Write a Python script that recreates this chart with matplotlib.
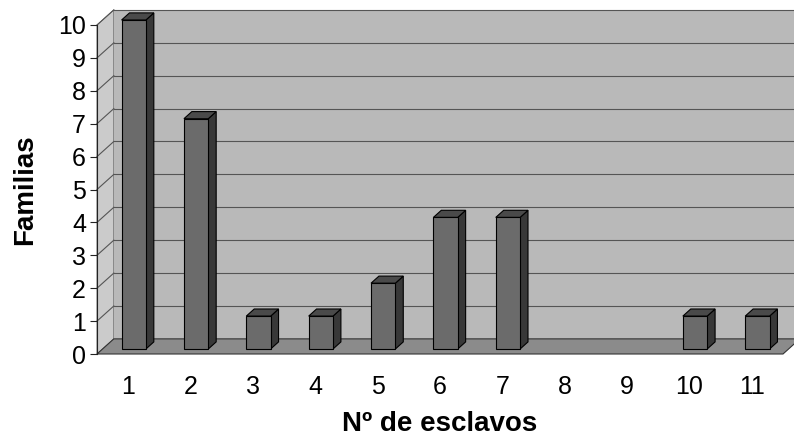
import matplotlib.pyplot as plt
from matplotlib.patches import Polygon

plt.rcParams['font.family'] = ['Liberation Sans', 'DejaVu Sans']

# Número de familias según el número de esclavos
esclavos = [1, 2, 3, 4, 5, 6, 7, 8, 9, 10, 11]
familias = [10, 7, 1, 1, 2, 4, 4, 0, 0, 1, 1]
y_ticks = list(range(0, 11))

# profundidad del "3D" en unidades de datos
DX, DY = 0.27, 0.46
F0, F1 = 0.33, 0.80   # posición de la barra dentro de la profundidad
W = 0.39             # ancho de barra

fig = plt.figure(figsize=(7.94, 4.43), dpi=100)
ax = fig.add_axes([97 / 794, 89 / 443, 686 / 794, 329 / 443])
ax.set_xlim(0.5, 11.5)
ax.set_ylim(0, 10)

x0, x1 = 0.5, 11.5
ymax = max(y_ticks)

def poly(pts, fc, ec='none', lw=0.0, z=1):
    ax.add_patch(Polygon(pts, closed=True, facecolor=fc, edgecolor=ec,
                         linewidth=lw, clip_on=False, zorder=z))

# paredes y suelo
poly([(x0, 0), (x0, ymax), (x0 + DX, ymax + DY), (x0 + DX, DY)], '#cbcbcb', '#555555', 0.6)
poly([(x0 + DX, DY), (x0 + DX, ymax + DY), (x1 + DX, ymax + DY), (x1 + DX, DY)], '#b9b9b9')
poly([(x0, 0), (x1, 0), (x1 + DX, DY), (x0 + DX, DY)], '#8b8b8b', '#333333', 0.8, z=2)

# líneas de división
for k in y_ticks[1:]:
    ax.plot([x0 + DX, x1 + DX], [k + DY, k + DY], color='#555555', lw=0.8,
            clip_on=False, zorder=1.5)
    ax.plot([x0, x0 + DX], [k, k + DY], color='#555555', lw=0.8,
            clip_on=False, zorder=1.5)

# barras con cara frontal, lateral y superior
for c, v in zip(esclavos, familias):
    if v == 0:
        continue
    l = c - W / 2 + F0 * DX
    r = c + W / 2 + F0 * DX
    b = F0 * DY
    t = v + F0 * DY
    ddx, ddy = (F1 - F0) * DX, (F1 - F0) * DY
    poly([(r, b), (r + ddx, b + ddy), (r + ddx, t + ddy), (r, t)], '#383838', 'black', 0.8, z=3)
    poly([(l, t), (r, t), (r + ddx, t + ddy), (l + ddx, t + ddy)], '#4a4a4a', 'black', 0.8, z=3)
    poly([(l, b), (r, b), (r, t), (l, t)], '#6b6b6b', 'black', 0.8, z=4)

for s in ['top', 'right', 'bottom']:
    ax.spines[s].set_visible(False)
ax.spines['left'].set_color('#222222')
ax.spines['left'].set_linewidth(0.8)
ax.spines['left'].set_zorder(5)

ax.set_yticks(y_ticks)
ax.set_xticks(esclavos)
ax.tick_params(axis='y', length=5, width=0.8, color='#222222', labelsize=18, pad=3)
ax.tick_params(axis='x', length=0, labelsize=18, pad=15)
ax.patch.set_visible(False)

ax.set_xlabel('Nº de esclavos', fontsize=20, fontweight='bold', labelpad=9)
ax.set_ylabel('Familias', fontsize=20, fontweight='bold', labelpad=14)

fig.savefig('out.png', dpi=100)
